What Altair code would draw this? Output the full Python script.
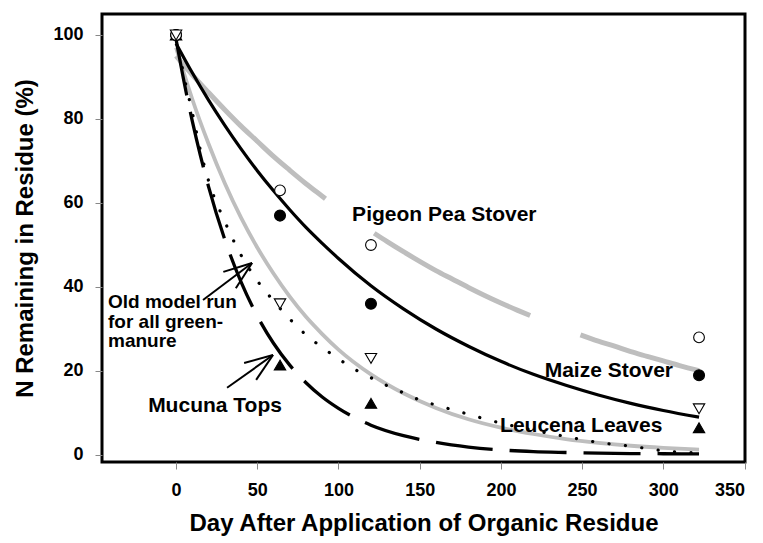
import altair as alt
import pandas as pd

# ---------------- data ----------------
obs_days = [0, 64, 120, 322]
pigeon_obs = [100, 63, 50, 28]
maize_obs = [100, 57, 36, 19]
leucena_obs = [100, 36, 23, 11]
mucuna_obs = [100, 21.4, 12.3, 6.5]

# fitted curves
pigeon_days = [0, 10, 20, 30, 40, 50, 60, 70, 80, 90, 92,
               122, 130, 140, 150, 160, 170, 180, 190, 200, 210, 218,
               249, 260, 270, 280, 290, 300, 310, 322]
pigeon_vals = [95, 90.5, 86.3, 82.2, 78.3, 74.7, 71.1, 67.8, 64.6, 61.6, 61.0,
               52.8, 50.8, 48.4, 46.1, 43.9, 41.9, 39.9, 38.0, 36.2, 34.5, 33.2,
               28.6, 27.1, 25.9, 24.6, 23.5, 22.4, 21.3, 20.1]

maize_days = [0, 10, 20, 30, 40, 50, 60, 70, 80, 90, 100, 120, 140, 160, 180,
              200, 220, 240, 260, 280, 300, 322]
maize_vals = [98, 91.0, 84.5, 78.5, 72.9, 67.7, 62.9, 58.4, 54.2, 50.4, 46.8,
              40.3, 34.8, 30.0, 25.9, 22.3, 19.2, 16.6, 14.3, 12.3, 10.6, 9.0]

leucena_days = [0, 5, 10, 20, 30, 40, 50, 60, 70, 80, 90, 100, 120, 140, 160,
                180, 200, 220, 240, 260, 280, 300, 322]
leucena_vals = [97, 90.7, 84.7, 74.1, 64.7, 56.5, 49.4, 43.2, 37.7, 32.9, 28.8,
                25.1, 19.2, 14.7, 11.2, 8.5, 6.5, 5.0, 3.8, 2.9, 2.2, 1.7, 1.3]

oldmodel_days = [0, 5, 10, 15, 20, 30, 40, 50, 60, 70, 80, 90, 100, 110, 120,
                 130, 140, 150, 160, 170, 180, 190, 200, 220, 240, 260, 280,
                 300, 322]
oldmodel_vals = [100, 90, 81.5, 72.5, 65.3, 55.6, 47.6, 41.5, 36.7, 32.4, 28.6,
                 25.6, 22.9, 20.4, 18.4, 16.5, 14.8, 13.1, 11.9, 10.8, 9.7, 8.6,
                 7.6, 5.9, 4.4, 3.0, 2.1, 1.0, 0.5]

mucuna_days = [0, 5, 10, 15, 20, 30, 40, 50, 60, 70, 80, 90, 100, 120, 140,
               160, 180, 200, 220, 240, 260, 280, 300, 322]
mucuna_vals = [99, 88.7, 79.5, 71.3, 63.9, 51.3, 41.2, 33.1, 26.6, 21.4, 17.2,
               13.8, 11.1, 7.1, 4.6, 3.0, 1.9, 1.2, 0.8, 0.6, 0.45, 0.35, 0.3,
               0.25]

# annotation labels (data coordinates)
label_text = ["Pigeon Pea Stover", "Leucena Leaves", "Mucuna Tops"]
label_day = [108.4, 199.5, -17.2]
label_val = [55.8, 5.55, 10.3]

right_label_text = ["Maize Stover"]
right_label_day = [306]
right_label_val = [18.5]

note_text = ["Old model run", "for all green-", "manure"]
note_day = [-41.9, -41.9, -41.9]
note_val = [34.9, 30.3, 25.7]

# arrows: shaft + two barbs each
arrow_day = [16.6, 29.1, 36.8, 31.4, 41.9, 49.3]
arrow_val = [36.9, 43.6, 39.7, 16.0, 21.9, 17.9]
arrow_day2 = [46.8, 46.8, 46.8, 59.7, 59.7, 59.7]
arrow_val2 = [45.7, 45.7, 45.7, 23.8, 23.8, 23.8]

x_ticks = [0, 50, 100, 150, 200, 250, 300, 350]
y_ticks = [0, 20, 40, 60, 80, 100]

# ---------------- chart ----------------
FONT = "Liberation Sans"
GRAY = "#bebebe"

xs = alt.Scale(domain=[-45.6, 350.3], nice=False, zero=False)
ys = alt.Scale(domain=[-1.667, 105], nice=False, zero=False)
XT = "Day After Application of Organic Residue"
YT = "N Remaining in Residue (%)"


def X(field="day"):
    return alt.X(f"{field}:Q", scale=xs, title=XT,
                 axis=alt.Axis(values=x_ticks, labelPadding=12, titlePadding=12))


def Y(field="val"):
    return alt.Y(f"{field}:Q", scale=ys, title=YT,
                 axis=alt.Axis(values=y_ticks, labelPadding=12, titlePadding=15))


def curve(days, vals):
    return pd.DataFrame({"day": days, "val": vals})


pigeon_line = (
    alt.Chart(curve(pigeon_days, pigeon_vals))
    .transform_calculate(seg="datum.day <= 92 ? 0 : (datum.day <= 218 ? 1 : 2)")
    .mark_line(color=GRAY, strokeWidth=5, interpolate="monotone", strokeCap="butt")
    .encode(x=X(), y=Y(), detail="seg:N")
)

leucena_line = (
    alt.Chart(curve(leucena_days, leucena_vals))
    .mark_line(color=GRAY, strokeWidth=3.8, interpolate="monotone")
    .encode(x=X(), y=Y())
)

maize_line = (
    alt.Chart(curve(maize_days, maize_vals))
    .mark_line(color="black", strokeWidth=3.2, interpolate="monotone")
    .encode(x=X(), y=Y())
)

old_line = (
    alt.Chart(curve(oldmodel_days, oldmodel_vals))
    .mark_line(color="black", strokeWidth=3.2, interpolate="monotone",
               strokeDash=[0.1, 16.4], strokeCap="round")
    .encode(x=X(), y=Y())
)

mucuna_line = (
    alt.Chart(curve(mucuna_days, mucuna_vals))
    .mark_line(color="black", strokeWidth=3.3, interpolate="monotone",
               strokeDash=[57, 17])
    .encode(x=X(), y=Y())
)


def points(vals, shape, fill, size):
    return (
        alt.Chart(pd.DataFrame({"day": obs_days, "val": vals}))
        .mark_point(shape=shape, filled=True, fill=fill, stroke="black",
                    strokeWidth=1.1, size=size, opacity=1)
        .encode(x=X(), y=Y())
    )


# filled symbols first, open symbols on top (as at day 0 in the reference)
pts = [
    points(maize_obs, "circle", "black", 120),
    points(mucuna_obs, "triangle-up", "black", 130),
    points(pigeon_obs, "circle", "white", 115),
    points(leucena_obs, "triangle-down", "white", 130),
]

arrows = (
    alt.Chart(pd.DataFrame({"day": arrow_day, "val": arrow_val,
                            "day2": arrow_day2, "val2": arrow_val2}))
    .mark_rule(color="black", strokeWidth=2)
    .encode(x=X(), y=Y(), x2="day2:Q", y2="val2:Q")
)

labels = (
    alt.Chart(pd.DataFrame({"day": label_day, "val": label_val, "t": label_text}))
    .mark_text(font=FONT, fontWeight="bold", fontSize=21, align="left",
               baseline="alphabetic", color="black")
    .encode(x=X(), y=Y(), text="t:N")
)

right_labels = (
    alt.Chart(pd.DataFrame({"day": right_label_day, "val": right_label_val,
                            "t": right_label_text}))
    .mark_text(font=FONT, fontWeight="bold", fontSize=21, align="right",
               baseline="alphabetic", color="black")
    .encode(x=X(), y=Y(), text="t:N")
)

notes = (
    alt.Chart(pd.DataFrame({"day": note_day, "val": note_val, "t": note_text}))
    .mark_text(font=FONT, fontWeight="bold", fontSize=19, align="left",
               baseline="alphabetic", color="black")
    .encode(x=X(), y=Y(), text="t:N")
)

chart = (
    alt.layer(pigeon_line, leucena_line, maize_line, old_line, mucuna_line,
              *pts, arrows, labels, right_labels, notes)
    .properties(
        width=643, height=448,
        autosize=alt.AutoSizeParams(type="none"),
        padding={"left": 94, "top": 6, "right": 10, "bottom": 75},
    )
    .configure_view(stroke="black", strokeWidth=3)
    .configure_axis(
        domain=False, grid=False, ticks=True, tickColor="#888888", tickWidth=1,
        tickSize=7, labelFont=FONT, labelFontWeight="bold", labelFontSize=18,
        labelColor="black", titleFont=FONT, titleFontWeight="bold",
        titleFontSize=24, titleColor="black",
    )
)

chart.save("out.html", embed_options={"renderer": "svg", "actions": False})
